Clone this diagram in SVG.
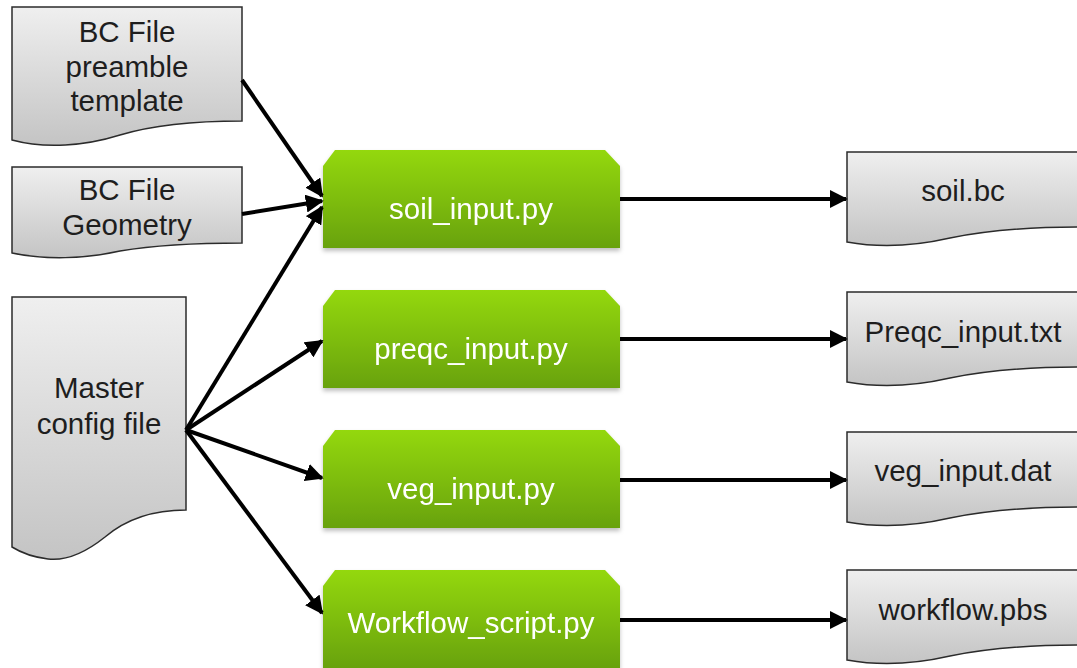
<svg xmlns="http://www.w3.org/2000/svg" width="1077" height="668" viewBox="0 0 1077 668">
  <style>
    .doc { fill: url(#docFill); stroke: #2b2b2b; stroke-width: 1.5; }
    .proc { fill: url(#procFill); }
    .dtext { font-family: "Liberation Sans", Arial, sans-serif; font-size: 29.5px; fill: #1e1e1e; text-anchor: middle; }
    .ptext { font-family: "Liberation Sans", Arial, sans-serif; font-size: 29.5px; fill: #ffffff; text-anchor: middle; }
    .conn { stroke: #000; stroke-width: 4; fill: none; marker-end: url(#arrow); }
  </style>
  <defs>
    <linearGradient id="docFill" x1="0" y1="0" x2="0" y2="1">
      <stop offset="0" stop-color="#efefef"/>
      <stop offset="1" stop-color="#c4c4c4"/>
    </linearGradient>
    <linearGradient id="procFill" x1="0" y1="0" x2="0" y2="1">
      <stop offset="0" stop-color="#94d80c"/>
      <stop offset="1" stop-color="#68a20a"/>
    </linearGradient>
    <filter id="shadow" x="-5%" y="-5%" width="110%" height="120%">
      <feDropShadow dx="0" dy="3" stdDeviation="2" flood-color="#000" flood-opacity="0.25"/>
    </filter>
    <marker id="arrow" viewBox="0 0 10 10" refX="9" refY="5" markerWidth="4.5" markerHeight="4.5" orient="auto" markerUnits="strokeWidth">
      <path d="M0,0 L10,5 L0,10 z" fill="#000"/>
    </marker>
  </defs>

  <!-- input documents -->
  <g id="doc-preamble">
    <path class="doc" d="M12,7 H242 V121 C190,121 150,126 120,135 C85,146 45,149 12,140 Z"/>
    <text class="dtext" x="127" y="42">BC File</text>
    <text class="dtext" x="127" y="77">preamble</text>
    <text class="dtext" x="127" y="111">template</text>
  </g>
  <g id="doc-geometry">
    <path class="doc" d="M12,167 H242 V243 C190,243 150,246 120,251 C85,259 45,260 12,253 Z"/>
    <text class="dtext" x="127" y="200">BC File</text>
    <text class="dtext" x="127" y="235">Geometry</text>
  </g>
  <g id="doc-master">
    <path class="doc" d="M12,297 H186 V510 C150,510 125,520 105,537 C85,553 65,561 48,559 C32,557 20,552 12,547 Z"/>
    <text class="dtext" x="99" y="398">Master</text>
    <text class="dtext" x="99" y="434">config file</text>
  </g>

  <!-- processing scripts -->
  <g id="proc-soil" filter="url(#shadow)">
    <path class="proc" d="M335,150 H605 L620,166 V248 H323 V166 Z"/>
    <text class="ptext" x="471" y="219">soil_input.py</text>
  </g>
  <g id="proc-preqc" filter="url(#shadow)">
    <path class="proc" d="M335,290 H605 L620,306 V388 H323 V306 Z"/>
    <text class="ptext" x="471" y="359">preqc_input.py</text>
  </g>
  <g id="proc-veg" filter="url(#shadow)">
    <path class="proc" d="M335,430 H605 L620,446 V528 H323 V446 Z"/>
    <text class="ptext" x="471" y="499">veg_input.py</text>
  </g>
  <g id="proc-workflow" filter="url(#shadow)">
    <path class="proc" d="M335,570 H605 L620,586 V668 H323 V586 Z"/>
    <text class="ptext" x="471" y="633">Workflow_script.py</text>
  </g>

  <!-- output documents -->
  <g id="out-soil">
    <path class="doc" d="M847,152 H1080 V227 C1030,227 990,230 950,238 C915,246 880,248 847,242 Z"/>
    <text class="dtext" x="963" y="201">soil.bc</text>
  </g>
  <g id="out-preqc">
    <path class="doc" d="M847,292 H1080 V367 C1030,367 990,370 950,378 C915,386 880,388 847,382 Z"/>
    <text class="dtext" x="963" y="342">Preqc_input.txt</text>
  </g>
  <g id="out-veg">
    <path class="doc" d="M847,432 H1080 V507 C1030,507 990,510 950,518 C915,526 880,528 847,522 Z"/>
    <text class="dtext" x="963" y="481">veg_input.dat</text>
  </g>
  <g id="out-workflow">
    <path class="doc" d="M847,570 H1080 V645 C1030,645 990,648 950,656 C915,664 880,666 847,660 Z"/>
    <text class="dtext" x="963" y="620">workflow.pbs</text>
  </g>

  <!-- connectors -->
  <g id="connectors">
    <line class="conn" x1="242" y1="80" x2="322" y2="196"/>
    <line class="conn" x1="242" y1="214" x2="322" y2="201"/>
    <line class="conn" x1="186" y1="430" x2="322" y2="207"/>
    <line class="conn" x1="186" y1="430" x2="322" y2="341"/>
    <line class="conn" x1="186" y1="430" x2="322" y2="478"/>
    <line class="conn" x1="186" y1="430" x2="322" y2="613"/>
    <line class="conn" x1="620" y1="199" x2="846" y2="199"/>
    <line class="conn" x1="620" y1="339" x2="846" y2="339"/>
    <line class="conn" x1="620" y1="480" x2="846" y2="480"/>
    <line class="conn" x1="620" y1="620" x2="846" y2="620"/>
  </g>
</svg>
